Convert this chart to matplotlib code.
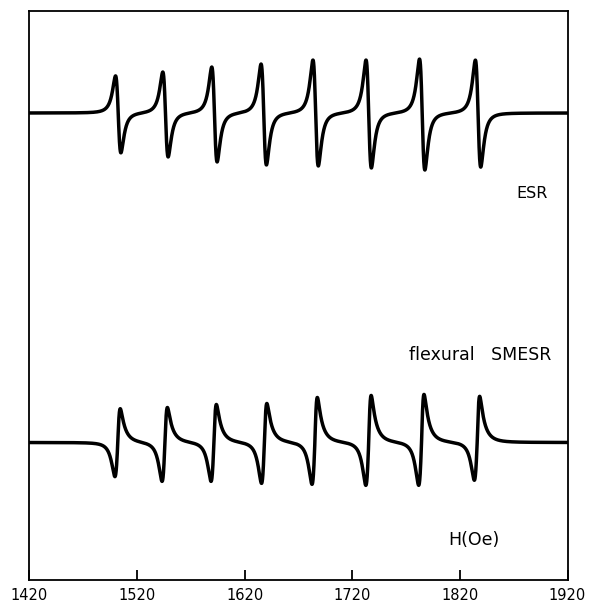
import numpy as np
import matplotlib
matplotlib.use("Agg")
import matplotlib.pyplot as plt

# field axis (Oe)
field_ticks = [1420, 1520, 1620, 1720, 1820, 1920]

# ESR trace: line centres (Oe), low-field lobe height, high-field lobe depth
esr_pos = [1502.6, 1546.5, 1592.0, 1637.8, 1686.0, 1735.3, 1785.0, 1836.9]
esr_up = [37, 41, 46, 49, 53, 53, 54, 53]
esr_down = [40, 44, 49, 52, 53, 55, 57, 54]
esr_base = 467.0

# flexural SMESR trace: line centres (Oe), low-field dip, high-field peak
smesr_pos = [1502.2, 1546.0, 1591.5, 1638.4, 1685.3, 1735.3, 1784.4, 1836.1]
smesr_down = [34, 39, 39, 41, 42, 43, 43, 38]
smesr_up = [34, 35, 38, 39, 45, 47, 48, 46]
smesr_base = 137.5


# derivative of a Lorentzian, peak normalised to 1
def dlor(u):
    return 2 * u / (1 + u**2)**2 / 0.6495


def esr_trace(x, pos, up, down, base, w=4.3):
    y = np.full_like(x, base)
    for x0, a, b in zip(pos, up, down):
        s = -dlor((x - x0) / w)
        y += np.where(s > 0, a * s, b * s)
    return y


def smesr_trace(x, pos, up, down, base, wl=4.6, wr=3.6, wt=8.0):
    t = np.linspace(0, 40, 4000)
    norm = np.max(0.78 * dlor(t / wr) + 0.22 * dlor(t / wt))
    y = np.full_like(x, base)
    for x0, a, b in zip(pos, up, down):
        d = x - x0
        left = -b * dlor(np.clip(-d, 0, None) / wl)
        right = a * (0.78 * dlor(np.clip(d, 0, None) / wr) +
                     0.22 * dlor(np.clip(d, 0, None) / wt)) / norm
        y += np.where(d < 0, left, right)
    return y


H = np.linspace(1420, 1920, 8001)

fig = plt.figure(figsize=(5.92, 6.04), dpi=100)
ax = fig.add_axes([29.3 / 592, 1 - 580 / 604, 538.2 / 592, 569 / 604])

ax.plot(H, esr_trace(H, esr_pos, esr_up, esr_down, esr_base),
        color='black', lw=2.5, solid_joinstyle='round')
ax.plot(H, smesr_trace(H, smesr_pos, smesr_up, smesr_down, smesr_base),
        color='black', lw=2.5, solid_joinstyle='round')

ax.set_xlim(1420, 1920)
ax.set_ylim(0, 569)
ax.set_xticks(field_ticks)
ax.set_xticklabels([str(v) for v in field_ticks])
ax.set_yticks([])
ax.tick_params(axis='x', direction='in', length=7, width=1.3, pad=6,
               labelsize=10.5)
for sp in ax.spines.values():
    sp.set_linewidth(1.3)

ax.text(1902, 387, 'ESR', ha='right', va='center', fontsize=11.5)
ax.text(1905, 225, 'flexural   SMESR', ha='right', va='center', fontsize=12.5)
ax.text(1833, 40, 'H(Oe)', ha='center', va='center', fontsize=12.5)

fig.savefig('out.png', dpi=100)
